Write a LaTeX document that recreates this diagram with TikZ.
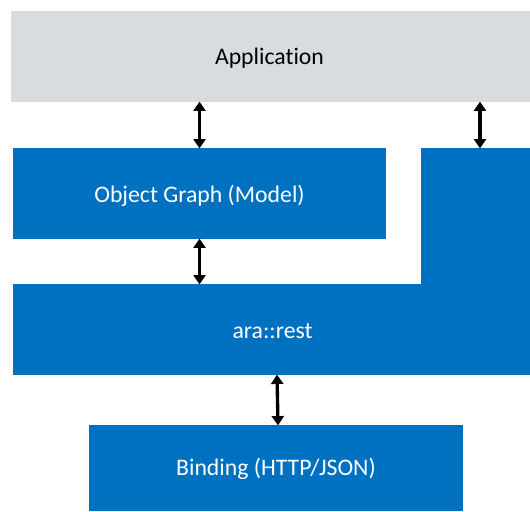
\documentclass[tikz,border=0pt]{standalone}
\usepackage{fontspec}
\setmainfont[Ligatures={NoCommon,NoRare,NoDiscretionary}]{Carlito}
\usetikzlibrary{arrows.meta,calc}
\definecolor{appgray}{HTML}{D9DCDF}
\definecolor{boxblue}{HTML}{0070C0}
\begin{document}
\begin{tikzpicture}[x=0.75pt,y=-0.75pt,
  blk/.style={fill=boxblue,draw=none,inner sep=0pt,text=white,font=\fontsize{17.8}{21}\selectfont},
  appbox/.style={fill=appgray,draw=none,inner sep=0pt,text=black,font=\fontsize{17.8}{21}\selectfont},
  lbl/.style={inner sep=0pt,font=\fontsize{17.8}{21}\selectfont},
  arr/.style={line width=2.5pt,{Triangle[width=9pt,length=7pt]}-{Triangle[width=9pt,length=7pt]},shorten <=-0.5pt,shorten >=-0.5pt}]
\useasboundingbox (0,0) rectangle (530,511);
\fill[white] (0,0) rectangle (530,511);
% boxes
\node[appbox,minimum width=519*0.75pt,minimum height=91*0.75pt] (app) at (270.5,56.5) {};
\node[blk,minimum width=373*0.75pt,minimum height=91*0.75pt] (obj) at (199.5,193.5) {};
\node[blk,minimum width=109*0.75pt,minimum height=137*0.75pt] (restcol) at (475.5,216.5) {};
\node[blk,minimum width=517*0.75pt,minimum height=91*0.75pt] (rest) at (271.5,329.5) {};
\node[blk,minimum width=374*0.75pt,minimum height=86*0.75pt] (bind) at (276,468) {};
% seam fill between column and bar
\fill[boxblue] (restcol.south west) rectangle ($(restcol.south east)+(0,2)$);
% labels
\node[lbl,text=black] (tapp) at ($(app.center)+(-1,1.5)$) {Application};
\node[lbl,text=white] (tobj) at ($(obj.center)+(0,2)$) {Object Graph (Model)};
\node[lbl,text=white] (trest) at ($(rest.center)+(1,1.5)$) {ara::rest};
\node[lbl,text=white] (tbind) at ($(bind.center)+(0,1)$) {Binding (HTTP/JSON)};
% arrows
\draw[arr] (obj.north |- app.south) -- (obj.north);
\draw[arr] ($(app.south -| restcol.north)+(4.5,0)$) -- ($(restcol.north)+(4.5,0)$);
\draw[arr] (obj.south) -- (obj.south |- rest.north);
\draw[arr] ($(rest.south -| bind.north)+(1,0)$) -- ($(bind.north)+(2,0)$);
\end{tikzpicture}
\end{document}
